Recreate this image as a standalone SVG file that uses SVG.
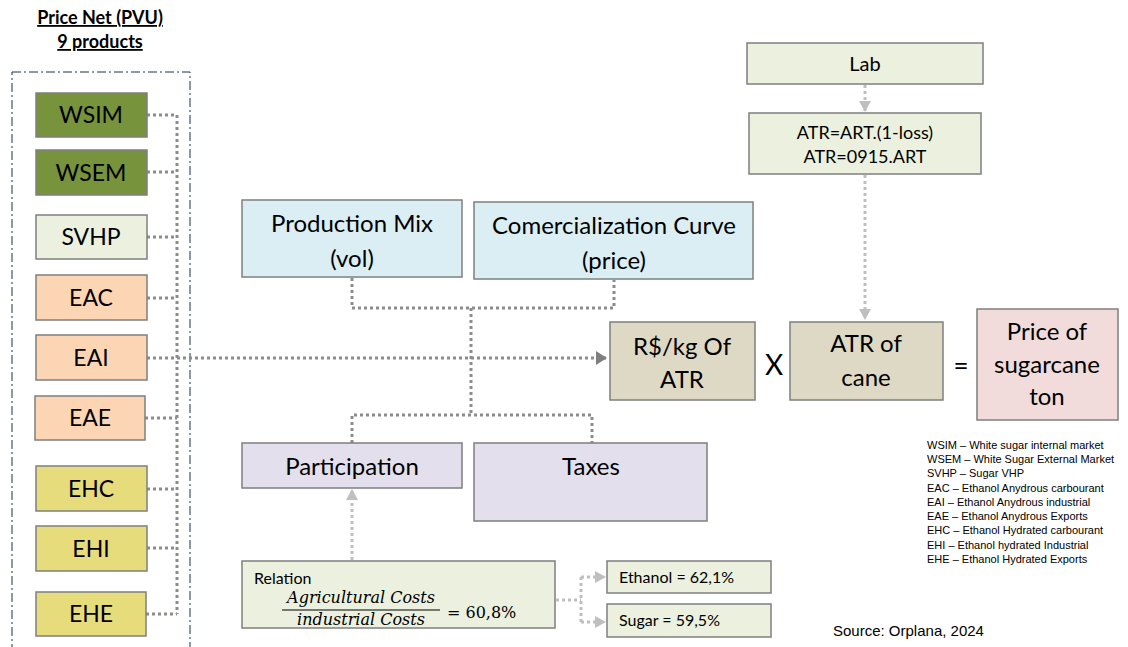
<svg xmlns="http://www.w3.org/2000/svg" width="1128" height="647" viewBox="0 0 1128 647">
<style>
.box{stroke:#7f7f7f;stroke-width:1.5}
.t{font-family:Lato,"Open Sans",sans-serif;fill:#000;text-anchor:middle}
.s{text-anchor:start}
.dk{fill:none;stroke:#8c8c8c;stroke-width:3;stroke-dasharray:3 3}
.lt{fill:none;stroke:#bfbfbf;stroke-width:3;stroke-dasharray:3 3}
.leg{font-family:"Liberation Sans",Arial,sans-serif;font-size:11px;fill:#000}
.m{font-family:"DejaVu Serif","Liberation Serif",serif;font-size:16px;fill:#000}
</style>
<defs>
<marker id="ad" markerUnits="userSpaceOnUse" markerWidth="12" markerHeight="14" refX="10" refY="7" orient="auto"><path d="M0,0 L11,7 L0,14 Z" fill="#7f7f7f"/></marker>
<marker id="al" markerUnits="userSpaceOnUse" markerWidth="12" markerHeight="12" refX="10" refY="6" orient="auto"><path d="M0,0 L11,6 L0,12 Z" fill="#bfbfbf"/></marker>
</defs>

<g id="title">
<text class="t" x="100" y="24" font-size="18" font-weight="bold" text-decoration="underline">Price Net (PVU)</text>
<text class="t" x="100" y="48" font-size="18" font-weight="bold" text-decoration="underline">9 products</text>
</g>
<rect id="container" x="12" y="72" width="178" height="580" fill="none" stroke="#1f3050" stroke-width="1" stroke-dasharray="9 3 2 3"/>

<g id="connectors">
<path class="dk" d="M147,115 H177 M147,172 H177 M147,237 H177 M147,298 H177 M145,418 H177 M147,489 H177 M147,548 H177 M146,614 H177 M177,115 V614"/>
<path class="dk" d="M147,358 H606" marker-end="url(#ad)"/>
<path class="dk" d="M352,278 V308 H614 V280 M471,308 V415 M352,443 V415 H592 V443"/>
<path class="lt" d="M865,85 V111" marker-end="url(#al)"/>
<path class="lt" d="M865,175 V319" marker-end="url(#al)"/>
<path class="lt" d="M352,560 V490" marker-end="url(#al)"/>
<path class="lt" d="M556,600 H581 M581,577 V622"/>
<path class="lt" d="M581,577 H605" marker-end="url(#al)"/>
<path class="lt" d="M581,622 H605" marker-end="url(#al)"/>
</g>

<g id="WSIM"><rect class="box" x="36" y="93" width="111" height="44" fill="#77933c"/><text class="t" x="91" y="123" font-size="23">WSIM</text></g>
<g id="WSEM"><rect class="box" x="36" y="150" width="111" height="45" fill="#77933c"/><text class="t" x="91" y="181" font-size="23">WSEM</text></g>
<g id="SVHP"><rect class="box" x="36" y="215" width="111" height="44" fill="#ebf1de"/><text class="t" x="91" y="245" font-size="23">SVHP</text></g>
<g id="EAC"><rect class="box" x="36" y="275" width="111" height="45" fill="#fcd5b5"/><text class="t" x="91" y="306" font-size="23">EAC</text></g>
<g id="EAI"><rect class="box" x="36" y="335" width="111" height="45" fill="#fcd5b5"/><text class="t" x="91" y="366" font-size="23">EAI</text></g>
<g id="EAE"><rect class="box" x="35" y="396" width="110" height="44" fill="#fcd5b5"/><text class="t" x="90" y="426" font-size="23">EAE</text></g>
<g id="EHC"><rect class="box" x="36" y="466" width="111" height="45" fill="#e6dc7c"/><text class="t" x="91" y="497" font-size="23">EHC</text></g>
<g id="EHI"><rect class="box" x="36" y="526" width="111" height="45" fill="#e6dc7c"/><text class="t" x="91" y="557" font-size="23">EHI</text></g>
<g id="EHE"><rect class="box" x="36" y="592" width="110" height="44" fill="#e6dc7c"/><text class="t" x="91" y="622" font-size="23">EHE</text></g>

<g id="production-mix"><rect class="box" x="242" y="200" width="220" height="77" fill="#daeef3"/><text class="t" x="352" y="232" font-size="24">Production Mix</text><text class="t" x="352" y="267" font-size="24">(vol)</text></g>
<g id="comercialization"><rect class="box" x="474" y="202" width="279" height="77" fill="#daeef3"/><text class="t" x="614" y="234" font-size="24">Comercialization Curve</text><text class="t" x="614" y="269" font-size="24">(price)</text></g>
<g id="participation"><rect class="box" x="242" y="443" width="220" height="45" fill="#e4dfec"/><text class="t" x="352" y="475" font-size="24">Participation</text></g>
<g id="taxes"><rect class="box" x="474" y="443" width="233" height="78" fill="#e4dfec"/><text class="t" x="591" y="475" font-size="24">Taxes</text></g>

<g id="rkg"><rect class="box" x="610" y="322" width="145" height="78" fill="#ddd9c4"/><text class="t" x="682" y="355" font-size="24">R$/kg Of</text><text class="t" x="682" y="388" font-size="24">ATR</text></g>
<text class="t" x="774" y="375" font-size="28">X</text>
<g id="atr-cane"><rect class="box" x="790" y="322" width="153" height="78" fill="#ddd9c4"/><text class="t" x="866" y="352" font-size="24">ATR of</text><text class="t" x="866" y="386" font-size="24">cane</text></g>
<text class="t" x="961" y="375" font-size="26">=</text>
<g id="price"><rect class="box" x="977" y="309" width="141" height="111" fill="#f2dcdb"/><text class="t" x="1047" y="340" font-size="24">Price of</text><text class="t" x="1047" y="373" font-size="24">sugarcane</text><text class="t" x="1047" y="405" font-size="24">ton</text></g>

<g id="lab"><rect class="box" x="747" y="43" width="236" height="41" fill="#ebf1de"/><text class="t" x="865" y="71" font-size="20">Lab</text></g>
<g id="atr-formula"><rect class="box" x="749" y="113" width="232" height="61" fill="#ebf1de"/><text class="t" x="865" y="139" font-size="18">ATR=ART.(1-loss)</text><text class="t" x="865" y="163" font-size="18">ATR=0915.ART</text></g>

<g id="relation"><rect class="box" x="242" y="561" width="313" height="67" fill="#ebf1de"/>
<text class="t s" x="254" y="584" font-size="16">Relation</text>
<text class="m" x="361" y="603" font-style="italic" text-anchor="middle">Agricultural Costs</text>
<line x1="282" y1="610" x2="440" y2="610" stroke="#000" stroke-width="1"/>
<text class="m" x="361" y="625" font-style="italic" text-anchor="middle">industrial Costs</text>
<text class="m" x="447" y="618">= 60,8%</text>
</g>
<g id="ethanol"><rect class="box" x="607" y="561" width="164" height="32" fill="#ebf1de"/><text class="t s" x="619" y="583" font-size="16">Ethanol = 62,1%</text></g>
<g id="sugar"><rect class="box" x="607" y="604" width="164" height="33" fill="#ebf1de"/><text class="t s" x="619" y="626" font-size="16">Sugar = 59,5%</text></g>

<text x="833" y="636" font-family="'Liberation Sans',Arial,sans-serif" font-size="15" fill="#000">Source: Orplana, 2024</text>

<g id="legend">
<text class="leg" x="927" y="449">WSIM – White sugar internal market</text>
<text class="leg" x="927" y="463">WSEM – White Sugar External Market</text>
<text class="leg" x="927" y="477">SVHP – Sugar VHP</text>
<text class="leg" x="927" y="492">EAC – Ethanol Anydrous carbourant</text>
<text class="leg" x="927" y="506">EAI – Ethanol Anydrous industrial</text>
<text class="leg" x="927" y="520">EAE – Ethanol Anydrous Exports</text>
<text class="leg" x="927" y="534">EHC – Ethanol Hydrated carbourant</text>
<text class="leg" x="927" y="549">EHI – Ethanol hydrated Industrial</text>
<text class="leg" x="927" y="563">EHE – Ethanol Hydrated Exports</text>
</g>
</svg>
